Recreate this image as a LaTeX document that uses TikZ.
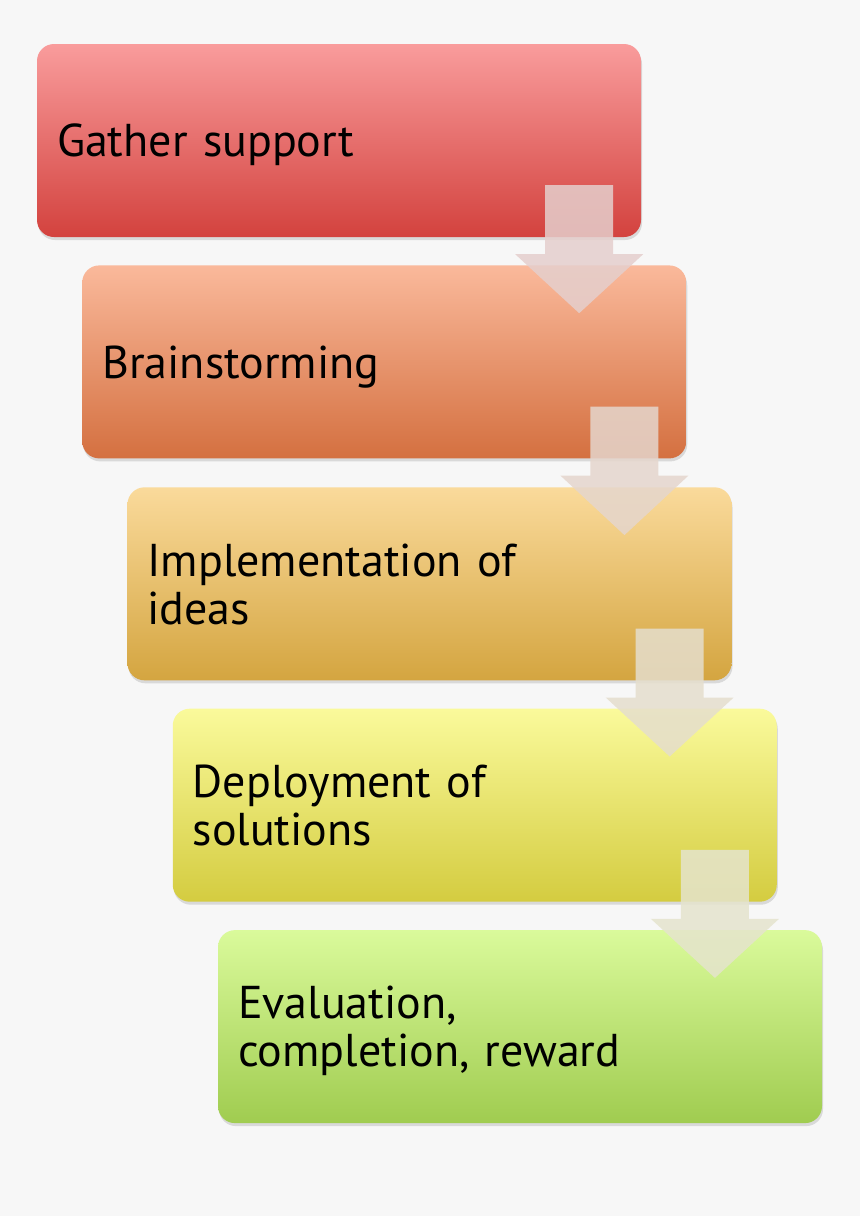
\documentclass[tikz,border=0pt]{standalone}
\usepackage{fontspec}
\setmainfont{PT Sans}
\usetikzlibrary{calc,positioning,shadows}
\definecolor{bgray}{HTML}{F7F7F7}
\definecolor{agray}{HTML}{E8E8E6}
\definecolor{redtop}{HTML}{F99C9C}
\definecolor{redbot}{HTML}{D3423E}
\definecolor{orgtop}{HTML}{FAB99B}
\definecolor{orgbot}{HTML}{D47040}
\definecolor{ambtop}{HTML}{FADA9B}
\definecolor{ambbot}{HTML}{D4A540}
\definecolor{yeltop}{HTML}{FAFA9B}
\definecolor{yelbot}{HTML}{D4CC40}
\definecolor{grntop}{HTML}{DAFA9B}
\definecolor{grnbot}{HTML}{A0CC50}
\tikzset{
        stage/.style = {rectangle, rounded corners=17pt,
            minimum height=193pt,
            minimum width=604pt,
            text width=564pt, inner xsep=20pt,
            text depth=0pt,
            align=left, font=\fontsize{46}{48}\selectfont,
            drop shadow={shadow xshift=1pt, shadow yshift=-3pt, opacity=0.25}},
        twoline/.style = {text depth=48pt},
        flowarrow/.style = {fill=#1!15!agray, fill opacity=0.85},
    }
\begin{document}
\begin{tikzpicture}[x=1pt,y=-1pt]
    \fill[bgray] (0,0) rectangle (860,1216);
    \useasboundingbox (0,0) rectangle (860,1216);

    \node[stage, top color=redtop, bottom color=redbot] (g1) at (339,140.5) {Gather support};
    \node[stage, top color=orgtop, bottom color=orgbot, below=28pt of g1, xshift=45.25pt] (g2) {Brainstorming};
    \node[stage, twoline, top color=ambtop, bottom color=ambbot, below=28.5pt of g2, xshift=45.25pt] (g3) {Implementation of\\ideas};
    \node[stage, twoline, top color=yeltop, bottom color=yelbot, below=28pt of g3, xshift=45.25pt] (g4) {Deployment of\\solutions};
    \node[stage, twoline, top color=grntop, bottom color=grnbot, below=28pt of g4, xshift=45.25pt] (g5) {Evaluation,\\completion, reward};

    % down arrows between stages
    \foreach \a/\b/\c in {g1/g2/redbot,g2/g3/orgbot,g3/g4/ambbot,g4/g5/yelbot} {
        \coordinate (top-\a) at ($(\a.south east)+(-62,-52)$);
        \fill[flowarrow=\c] (top-\a) ++(-34,0) -- ++(68,0) -- ++(0,69) -- ++(30,0)
            -- ($(top-\a |- \b.north)+(0,48)$) -- ($(top-\a)+(-64,69)$) -- ++(30,0) -- cycle;
    }
\end{tikzpicture}
\end{document}
